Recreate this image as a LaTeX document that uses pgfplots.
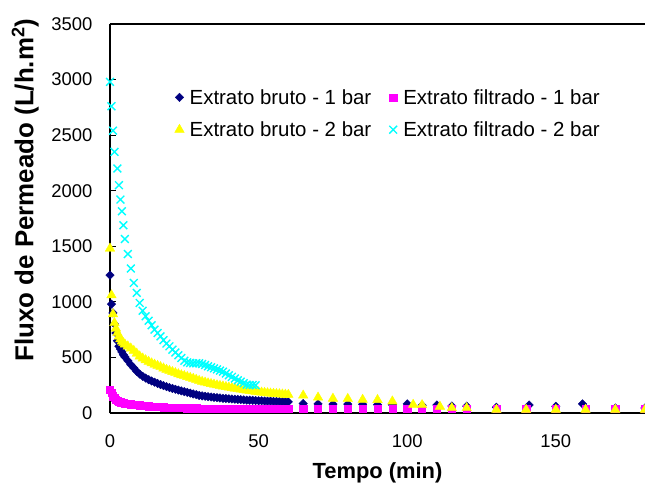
\documentclass[border=0pt]{standalone}
\usepackage{fontspec}
\setmainfont{Liberation Sans}
\usepackage{pgfplots}
\pgfplotsset{compat=1.18}
\definecolor{brutoA}{HTML}{000080}
\definecolor{filtA}{HTML}{FF00FF}
\definecolor{brutoB}{HTML}{FFFF00}
\definecolor{filtB}{HTML}{00FFFF}

\begin{document}
\begin{tikzpicture}
\begin{axis}[
  name=ax,
  scale only axis,
  width=535bp,height=389bp,
  xmin=0,xmax=180,ymin=0,ymax=3500,
  xtick={0,50,100,150},
  ytick={0,500,1000,1500,2000,2500,3000,3500},
  axis x line*=box, axis y line*=left,
  xtick pos=bottom, ytick pos=left,
  tick align=inside, major tick length=6bp,
  axis line style={black,line width=1.2bp},
  tick style={black,line width=1bp},
  /pgf/number format/assume math mode=true,
  /pgf/number format/1000 sep={},
  tick label style={font=\fontsize{18.5}{20}\selectfont},
  yticklabel style={xshift=-14bp},
  xticklabel style={yshift=-18bp},
  xlabel={\textbf{Tempo (min)}},
  ylabel={\textbf{Fluxo de Permeado (L/h.m\textsuperscript{2})}},
  xlabel style={font=\fontsize{22}{24}\selectfont,yshift=-8bp},
  ylabel style={font=\fontsize{26}{28}\selectfont,at={(ticklabel cs:0.573)},yshift=6bp},
  legend columns=2,
  legend cell align=left,
  legend style={draw=none,fill=none,at={(0.115,0.843)},anchor=north west,
    font=\fontsize{20.5}{23}\selectfont,row sep=12bp,
    /tikz/every even column/.append style={column sep=16bp}},
  legend image code/.code={\draw[#1] plot coordinates {(0bp,0bp)};\path (8bp,0bp);},
]
\addplot[only marks,mark=square*,mark size=3bp,mark options={rotate=45},color=brutoA] coordinates {
 (0,1240) (0.5,980) (1,900) (1.5,800) (2,720) (2.5,650) (3,600) (3.5,575) (4,550) (4.5,525)
 (5,505) (6,470) (7,435) (8,405) (9,375) (10,350) (11,330) (12,314) (13,300) (14,288)
 (15,277) (16,266) (17,256) (18,246) (19,237) (20,229) (21,221) (22,213) (23,206) (24,199)
 (25,192) (26,185) (27,178) (28,171) (29,165) (30,158) (31,154) (32,150) (33,147) (34,144)
 (35,141) (36,138) (37,135) (38,132) (39,130) (40,128) (41,126) (42,124) (43,122) (44,120)
 (45,118) (46,116) (47,115) (48,114) (49,112) (50,111) (51,110) (52,108) (53,107) (54,106)
 (55,105) (56,104) (57,103) (58,102) (59,101) (60,100) (65,85) (70,82) (75,80) (80,80)
 (85,78) (90,76) (95,75) (100,82) (105,70) (110,72) (115,63) (120,62) (130,52) (141,72)
 (150,60) (159,82) (170,45) (180,45)};
\addlegendentry{Extrato bruto - 1 bar}
\addplot[only marks,mark=square*,mark size=3.6bp,color=filtA] coordinates {
 (0,207) (0.5,180) (1,152) (1.5,135) (2,122) (2.5,112) (3,104) (3.5,98) (4,94) (4.5,90)
 (5,87) (6,83) (7,80) (8,77) (9,73) (10,70) (11,67) (12,64) (13,62) (14,60)
 (15,58) (16,56) (17,54) (18,53) (19,51) (20,50) (21,49) (22,48) (23,47) (24,46)
 (25,45) (26,44) (27,44) (28,43) (29,43) (30,42) (31,41) (32,41) (33,40) (34,40)
 (35,39) (36,39) (37,38) (38,38) (39,38) (40,37) (41,37) (42,37) (43,37) (44,37)
 (45,37) (46,37) (47,37) (48,37) (49,37) (50,37) (51,37) (52,37) (53,37) (54,37)
 (55,37) (56,37) (57,37) (58,37) (59,37) (60,37) (65,37) (70,37) (75,37) (80,37)
 (85,37) (90,37) (95,37) (100,36) (105,36) (110,36) (115,36) (120,36) (130,36) (140,36)
 (150,36) (160,36) (170,36) (180,36)};
\addlegendentry{Extrato filtrado - 1 bar}
\addplot[only marks,mark=triangle*,mark size=5.5bp,color=brutoB] coordinates {
 (0,1480) (0.5,1060) (1,890) (1.5,810) (2,760) (2.5,720) (3,690) (3.5,665) (4,645) (4.5,630)
 (5,618) (6,600) (7,582) (8,560) (9,535) (10,510) (11,492) (12,476) (13,462) (14,448)
 (15,436) (16,425) (17,414) (18,402) (19,390) (20,380) (21,370) (22,360) (23,350) (24,341)
 (25,333) (26,325) (27,317) (28,309) (29,300) (30,290) (31,282) (32,275) (33,268) (34,262)
 (35,256) (36,250) (37,245) (38,240) (39,235) (40,230) (41,225) (42,220) (43,216) (44,212)
 (45,208) (46,204) (47,200) (48,196) (49,192) (50,188) (51,185) (52,182) (53,179) (54,176)
 (55,174) (56,172) (57,170) (58,168) (59,166) (60,165) (65,158) (70,140) (75,130) (80,128)
 (85,120) (90,118) (95,105) (102,75) (105,72) (111,58) (115,45) (120,45) (130,30) (140,30)
 (150,30) (160,30) (170,30) (180,30)};
\addlegendentry{Extrato bruto - 2 bar}
\addplot[only marks,mark=x,mark size=5.5bp,mark options={line width=1.4bp},color=filtB] coordinates {
 (0,2980) (0.5,2760) (1,2540) (1.5,2350) (2.5,2200) (3,2050) (3.5,1920) (4,1815) (4.5,1690) (5,1565)
 (6,1430) (7,1300) (8,1170) (9,1080) (10,990) (11,920) (12,870) (13,830) (14,790) (15,750)
 (16,720) (17,690) (18,655) (19,625) (20,600) (21,570) (22,545) (23,520) (24,495) (25,470)
 (26,455) (27,450) (28,447) (29,448) (30,447) (31,440) (32,432) (33,420) (34,412) (35,402)
 (36,392) (37,382) (38,372) (39,355) (40,340) (41,325) (42,310) (43,295) (44,282) (45,268)
 (46,255) (47,252) (48,252) (49,250)};
\addlegendentry{Extrato filtrado - 2 bar}
\end{axis}
\pgfresetboundingbox
\path[use as bounding box] ([shift={(-110bp,-73bp)}]ax.south west) rectangle ([shift={(0bp,24bp)}]ax.north east);
\end{tikzpicture}
\end{document}
